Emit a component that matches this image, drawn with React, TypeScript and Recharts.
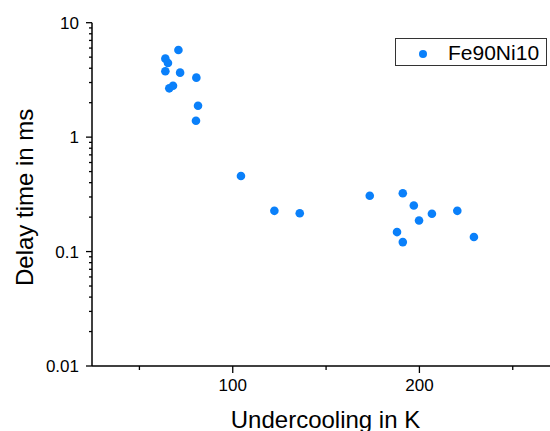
import React from 'react';
import { ScatterChart, Scatter, XAxis, YAxis, Legend, Label } from 'recharts';

const seriesName = 'Fe90Ni10';
const undercooling = [70.9, 63.9, 65.3, 63.9, 71.8, 80.5, 66.0, 68.0, 81.4, 80.3, 104.4, 122.3, 135.9, 173.4, 191.1, 197.0, 199.8, 206.7, 220.3, 188.0, 191.1, 229.2];
const delayTime = [5.77, 4.85, 4.44, 3.76, 3.66, 3.31, 2.67, 2.81, 1.88, 1.39, 0.457, 0.227, 0.216, 0.307, 0.323, 0.253, 0.187, 0.214, 0.227, 0.148, 0.121, 0.134];

const xTicks = [50, 100, 150, 200, 250];
const xMajorTicks = [100, 200];
const yTicks = [
  0.01, 0.02, 0.03, 0.04, 0.05, 0.06, 0.07, 0.08, 0.09,
  0.1, 0.2, 0.3, 0.4, 0.5, 0.6, 0.7, 0.8, 0.9,
  1, 2, 3, 4, 5, 6, 7, 8, 9, 10,
];
const yMajorTicks = [0.01, 0.1, 1, 10];

const data = undercooling.map((x, i) => ({ x, y: delayTime[i] }));

const FONT = '"Liberation Sans", Arial, Helvetica, sans-serif';
const BLUE = '#0a80fa';

const BottomTick = (p: any) => {
  const v = p.payload.value;
  const major = xMajorTicks.includes(v);
  return (
    <g>
      <line x1={p.x} y1={p.y} x2={p.x} y2={p.y + (major ? 7 : 4)} stroke="#000" strokeWidth={1.3} />
      {major && (
        <text x={p.x} y={p.y + 25} textAnchor="middle" fontSize={17} fontFamily={FONT} fill="#000">
          {v}
        </text>
      )}
    </g>
  );
};

const TopTick = (p: any) => {
  const v = p.payload.value;
  const major = xMajorTicks.includes(v);
  return <line x1={p.x} y1={p.y} x2={p.x} y2={p.y + (major ? 6 : 3.5)} stroke="#000" strokeWidth={1.3} />;
};

const LeftTick = (p: any) => {
  const v = p.payload.value;
  const major = yMajorTicks.some((m) => Math.abs(m - v) < 1e-9);
  return (
    <g>
      <line x1={p.x} y1={p.y} x2={p.x - (major ? 6 : 3)} y2={p.y} stroke="#000" strokeWidth={1.3} />
      {major && (
        <text x={p.x - 13} y={p.y + 6} textAnchor="end" fontSize={17} fontFamily={FONT} fill="#000">
          {String(v)}
        </text>
      )}
    </g>
  );
};

const XTitle = (p: any) => {
  const vb = p.viewBox || { x: 92, y: 366, width: 462, height: 65 };
  return (
    <text x={vb.x + vb.width / 2 + 2.5} y={vb.y + vb.height - 3} textAnchor="middle" fontSize={24} fontFamily={FONT} fill="#000">
      Undercooling in K
    </text>
  );
};

const YTitle = (p: any) => {
  const vb = p.viewBox || { x: 0, y: 22.7, width: 92, height: 343.3 };
  const x = vb.x + 33;
  const y = vb.y + vb.height / 2 + 3;
  return (
    <text x={x} y={y} transform={`rotate(-90, ${x}, ${y})`} textAnchor="middle" fontSize={24} fontFamily={FONT} fill="#000">
      Delay time in ms
    </text>
  );
};

const LegendBox = () => (
  <svg width={152} height={28} style={{ display: 'block' }}>
    <rect x={0.5} y={0.5} width={151} height={27} fill="#fff" stroke="#333" strokeWidth={1} />
    <circle cx={28} cy={16} r={4} fill={BLUE} />
    <text x={53} y={22} fontSize={21} fontFamily={FONT} fill="#000">
      {seriesName}
    </text>
  </svg>
);

const Dot = (p: any) => <circle cx={p.cx} cy={p.cy} r={4.3} fill={BLUE} />;

export default function App() {
  return (
    <div style={{ position: 'absolute', left: 0, top: 0, width: 550, height: 431, overflow: 'hidden', background: '#fff' }}>
      <ScatterChart width={554} height={431} margin={{ top: 22.7, right: 0, bottom: 0, left: 0 }}>
        <XAxis
          xAxisId="bottom"
          dataKey="x"
          type="number"
          domain={[24.6, 272.1]}
          ticks={xTicks}
          interval={0}
          allowDataOverflow
          height={65}
          tickSize={0}
          tickMargin={0}
          tickLine={false}
          tick={BottomTick}
          axisLine={{ stroke: '#000', strokeWidth: 1.5 }}
        >
          <Label content={XTitle} />
        </XAxis>
        <XAxis
          xAxisId="top"
          orientation="top"
          type="number"
          domain={[24.6, 272.1]}
          ticks={xTicks}
          interval={0}
          allowDataOverflow
          height={0}
          tickSize={0}
          tickMargin={0}
          tickLine={false}
          tick={TopTick}
          axisLine={{ stroke: '#000', strokeWidth: 1.5 }}
        />
        <YAxis
          dataKey="y"
          type="number"
          scale="log"
          domain={[0.01, 10]}
          ticks={yTicks}
          interval={0}
          allowDataOverflow
          width={92}
          tickSize={0}
          tickMargin={0}
          tickLine={false}
          tick={LeftTick}
          axisLine={{ stroke: '#000', strokeWidth: 1.5 }}
        >
          <Label content={YTitle} />
        </YAxis>
        <Legend
          layout="horizontal"
          verticalAlign="middle"
          align="center"
          wrapperStyle={{ left: 395, top: 38, width: 152, height: 28 }}
          content={LegendBox}
        />
        <Scatter
          name={seriesName}
          data={data}
          xAxisId="bottom"
          fill={BLUE}
          shape={Dot}
          isAnimationActive={false}
        />
      </ScatterChart>
    </div>
  );
}
